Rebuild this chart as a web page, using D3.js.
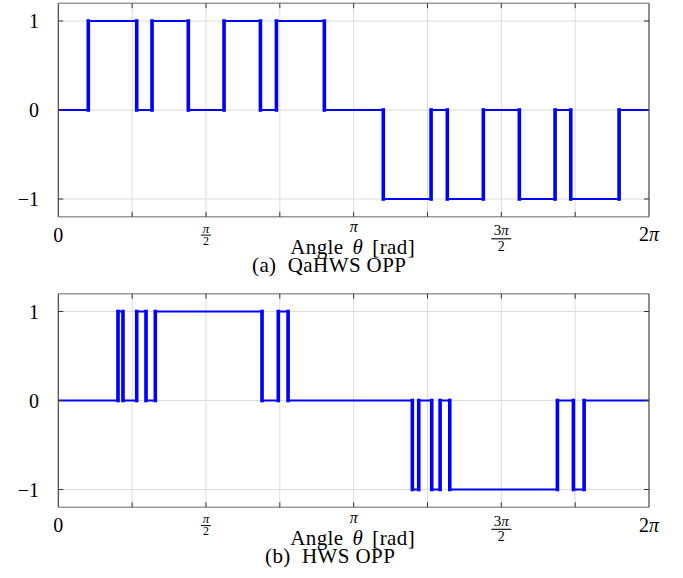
<!DOCTYPE html>
<html><head><meta charset="utf-8">
<script src="https://cdn.jsdelivr.net/npm/d3@7"></script>
<style>
body{margin:0;background:#fff;}
text{font-family:"Liberation Serif","Times New Roman",serif;fill:#000;}
</style></head>
<body><svg id="c" width="683" height="578"></svg>
<script>
// ---- data ----
const qahwsAngles = [0, 0.319, 0.834, 0.997, 1.383, 1.763, 2.150, 2.320, 2.830, 3.457, 3.965, 4.138, 4.521, 4.904, 5.284, 5.451, 5.965, 2*Math.PI];
const qahwsLevels = [0, 1, 0, 1, 0, 1, 0, 1, 0, -1, 0, -1, 0, -1, 0, -1, 0, 0];
const hwsAngles = [0, 0.635, 0.688, 0.834, 0.933, 1.032, 2.167, 2.340, 2.444, 3.766, 3.834, 3.972, 4.061, 4.164, 5.309, 5.479, 5.593, 2*Math.PI];
const hwsLevels = [0, 1, 0, 1, 0, 1, 0, 1, 0, -1, 0, -1, 0, -1, 0, -1, 0, 0];
const xGridMultiples = [0, 1, 2, 3, 4, 5, 6, 7, 8]; // multiples of pi/4
const yTicks = [-1, 0, 1];
const yTickLabels = ["\u22121", "0", "1"];
const xLabel = ["Angle", "\u03B8", "[rad]"];
const captions = ["(a)\u00A0\u00A0QaHWS OPP", "(b)\u00A0\u00A0HWS OPP"];

const svg = d3.select("#c");
const x = d3.scaleLinear().domain([0, 2*Math.PI]).range([58.3, 649]);

function panel(top, angles, levels, caption, capX) {
  const y = d3.scaleLinear().domain([-1.2, 1.2]).range([top + 213.6, top]);
  const g = svg.append("g");
  const x0 = x.range()[0], x1 = x.range()[1], yb = y(-1.2), yt = y(1.2);
  // grid
  g.selectAll(".vg").data(xGridMultiples.slice(1, -1)).enter().append("line")
    .attr("x1", d => x(d*Math.PI/4)).attr("x2", d => x(d*Math.PI/4))
    .attr("y1", yt).attr("y2", yb).attr("stroke", "#dcdcdc").attr("stroke-width", 1);
  g.selectAll(".hg").data(yTicks).enter().append("line")
    .attr("x1", x0).attr("x2", x1).attr("y1", d => y(d)).attr("y2", d => y(d))
    .attr("stroke", "#dcdcdc").attr("stroke-width", 1);
  // waveform
  const pts = angles.map((a, i) => [a, levels[i]]);
  g.append("path").datum(pts)
    .attr("d", d3.line().x(d => x(d[0])).y(d => y(d[1])).curve(d3.curveStepAfter))
    .attr("fill", "none").attr("stroke", "#0000ff").attr("stroke-width", 2.2)
    .attr("stroke-linejoin", "miter");
  // switching edges (drawn heavier, as in the reference)
  const edges = angles.slice(1, -1).map((a, i) => ({a: a, from: levels[i], to: levels[i + 1]}));
  g.selectAll(".edge").data(edges).enter().append("line")
    .attr("x1", d => x(d.a)).attr("x2", d => x(d.a))
    .attr("y1", d => y(d.from)).attr("y2", d => y(d.to))
    .attr("stroke", "#0000ff").attr("stroke-width", 3.6).attr("stroke-linecap", "square");
  // frame
  g.append("line").attr("x1", x0).attr("x2", x1).attr("y1", yt).attr("y2", yt).attr("stroke", "#999").attr("stroke-width", 1.4);
  g.append("line").attr("x1", x0).attr("x2", x1).attr("y1", yb).attr("y2", yb).attr("stroke", "#999").attr("stroke-width", 1.4);
  g.append("line").attr("x1", x0).attr("x2", x0).attr("y1", yt).attr("y2", yb).attr("stroke", "#444").attr("stroke-width", 1.2);
  g.append("line").attr("x1", x1).attr("x2", x1).attr("y1", yt).attr("y2", yb).attr("stroke", "#444").attr("stroke-width", 1.2);
  // x ticks (inward, top and bottom)
  const xt = xGridMultiples.slice(1, -1);
  g.selectAll(".xtb").data(xt).enter().append("line")
    .attr("x1", d => x(d*Math.PI/4)).attr("x2", d => x(d*Math.PI/4))
    .attr("y1", yb).attr("y2", yb - 5).attr("stroke", "#333").attr("stroke-width", 1);
  g.selectAll(".xtt").data(xt).enter().append("line")
    .attr("x1", d => x(d*Math.PI/4)).attr("x2", d => x(d*Math.PI/4))
    .attr("y1", yt).attr("y2", yt + 5).attr("stroke", "#333").attr("stroke-width", 1);
  // y ticks (inward, left and right)
  g.selectAll(".ytl").data(yTicks).enter().append("line")
    .attr("x1", x0).attr("x2", x0 + 5).attr("y1", d => y(d)).attr("y2", d => y(d))
    .attr("stroke", "#333").attr("stroke-width", 1);
  g.selectAll(".ytr").data(yTicks).enter().append("line")
    .attr("x1", x1).attr("x2", x1 - 5).attr("y1", d => y(d)).attr("y2", d => y(d))
    .attr("stroke", "#333").attr("stroke-width", 1);
  // y tick labels
  g.selectAll(".ylab").data(yTicks).enter().append("text")
    .attr("x", 39).attr("y", d => y(d) + 7).attr("text-anchor", "end")
    .attr("font-size", 20).text((d, i) => yTickLabels[i]);
  // x tick labels
  g.append("text").attr("x", x(0)).attr("y", yb + 25).attr("text-anchor", "middle")
    .attr("font-size", 20).text("0");
  g.append("text").attr("x", x(Math.PI)).attr("y", yb + 15.5).attr("text-anchor", "middle")
    .attr("font-size", 16).attr("font-style", "italic").text("\u03C0");
  const t2 = g.append("text").attr("x", x(2*Math.PI)).attr("y", yb + 24.5).attr("text-anchor", "middle").attr("font-size", 20);
  t2.append("tspan").text("2");
  t2.append("tspan").attr("font-style", "italic").text("\u03C0");
  // pi/2 fraction
  const fx = x(Math.PI/2);
  g.append("text").attr("x", fx).attr("y", yb + 15.8).attr("text-anchor", "middle")
    .attr("font-size", 13).attr("font-style", "italic").text("\u03C0");
  g.append("line").attr("x1", fx - 5).attr("x2", fx + 5).attr("y1", yb + 18.3).attr("y2", yb + 18.3)
    .attr("stroke", "#000").attr("stroke-width", 1);
  g.append("text").attr("x", fx).attr("y", yb + 28).attr("text-anchor", "middle")
    .attr("font-size", 12).text("2");
  // 3pi/2 fraction
  const gx = x(3*Math.PI/2);
  const n3 = g.append("text").attr("x", gx).attr("y", yb + 18.5).attr("text-anchor", "middle").attr("font-size", 15);
  n3.append("tspan").text("3");
  n3.append("tspan").attr("font-style", "italic").text("\u03C0");
  g.append("line").attr("x1", gx - 10).attr("x2", gx + 10).attr("y1", yb + 22).attr("y2", yb + 22)
    .attr("stroke", "#000").attr("stroke-width", 1.1);
  g.append("text").attr("x", gx).attr("y", yb + 34).attr("text-anchor", "middle")
    .attr("font-size", 14).text("2");
  // axis label
  const al = g.append("text").attr("x", x(Math.PI) - 1).attr("y", yb + 37.5)
    .attr("text-anchor", "middle").attr("font-size", 21).attr("letter-spacing", 0.4);
  al.append("tspan").text(xLabel[0]);
  al.append("tspan").attr("dx", 9).attr("font-style", "italic").text(xLabel[1]);
  al.append("tspan").attr("dx", 9).text(xLabel[2]);
  // caption
  g.append("text").attr("x", capX).attr("y", yb + 55.5).attr("text-anchor", "start")
    .attr("font-size", 21).attr("letter-spacing", 0.4).text(caption);
}

panel(3.2, qahwsAngles, qahwsLevels, captions[0], 252);
panel(293.7, hwsAngles, hwsLevels, captions[1], 265);
</script></body></html>
